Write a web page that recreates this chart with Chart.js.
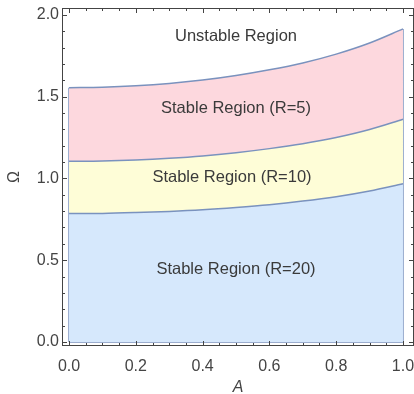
<!DOCTYPE html>
<html>
<head>
<meta charset="utf-8">
<script src="https://cdn.jsdelivr.net/npm/chart.js@4.4.1/dist/chart.umd.min.js"></script>
<style>
  html, body { margin: 0; padding: 0; background: #fff; }
  #wrap { width: 414px; height: 394px; position: relative; }
</style>
</head>
<body>
<div id="wrap"><canvas id="chart"></canvas></div>
<script>
// A values along the horizontal axis
const aValues = [0, 0.1, 0.2, 0.3, 0.4, 0.5, 0.6, 0.7, 0.8, 0.9, 1.0];

// upper boundaries of each stable region (Omega)
const omegaR5 = [1.555, 1.558, 1.566, 1.580, 1.601, 1.629, 1.664, 1.706, 1.760, 1.828, 1.914];
const omegaR10 = [1.105, 1.107, 1.113, 1.123, 1.137, 1.157, 1.182, 1.212, 1.250, 1.299, 1.362];
const omegaR20 = [0.785, 0.786, 0.791, 0.798, 0.808, 0.822, 0.839, 0.861, 0.888, 0.923, 0.967];

const xTicks = [0, 0.2, 0.4, 0.6, 0.8, 1.0];
const yTicks = [0, 0.5, 1.0, 1.5, 2.0];

const regionLabels = [
  { text: "Unstable Region", a: 0.5, w: 1.866 },
  { text: "Stable Region (R=5)", a: 0.5, w: 1.428 },
  { text: "Stable Region (R=10)", a: 0.488, w: 1.008 },
  { text: "Stable Region (R=20)", a: 0.5, w: 0.446 },
];

const FONT = "'Liberation Sans', Arial, sans-serif";
const edgeColor = "rgb(122,146,190)";
const toPoints = (ys) => ys.map((y, i) => ({ x: aValues[i], y: y }));
const last = aValues.length - 1;

const framePlugin = {
  id: "frame",
  afterDatasetsDraw(chart) {
    const { ctx, chartArea: ca, scales } = chart;
    const xs = scales.x, ys = scales.y;
    ctx.save();
    // region labels
    ctx.fillStyle = "#3a3a3a";
    ctx.font = "16.5px " + FONT;
    ctx.textAlign = "center";
    ctx.textBaseline = "middle";
    regionLabels.forEach((l) => {
      ctx.fillText(l.text, xs.getPixelForValue(l.a), ys.getPixelForValue(l.w));
    });
    // frame with inward ticks on all four sides
    ctx.strokeStyle = "#444";
    ctx.lineWidth = 1;
    ctx.strokeRect(Math.round(ca.left) + 0.5, Math.round(ca.top) + 0.5,
      Math.round(ca.right - ca.left) - 1, Math.round(ca.bottom - ca.top) - 1);
    ctx.beginPath();
    for (let v = 0; v <= 1.0001; v += 0.05) {
      const major = xTicks.some((t) => Math.abs(t - v) < 1e-6);
      const len = major ? 5 : 3;
      const px = Math.round(xs.getPixelForValue(v)) + 0.5;
      ctx.moveTo(px, ca.bottom); ctx.lineTo(px, ca.bottom - len);
      ctx.moveTo(px, ca.top); ctx.lineTo(px, ca.top + len);
    }
    for (let v = 0; v <= 2.0001; v += 0.1) {
      const major = yTicks.some((t) => Math.abs(t - v) < 1e-6);
      const len = major ? 5 : 3;
      const py = Math.round(ys.getPixelForValue(v)) + 0.5;
      ctx.moveTo(ca.left, py); ctx.lineTo(ca.left + len, py);
      ctx.moveTo(ca.right, py); ctx.lineTo(ca.right - len, py);
    }
    ctx.stroke();
    ctx.restore();
  },
};

const lineStyle = {
  borderColor: edgeColor,
  borderWidth: 1.5,
  pointRadius: 0,
  cubicInterpolationMode: "monotone",
};

new Chart(document.getElementById("chart").getContext("2d"), {
  type: "line",
  data: {
    datasets: [
      { ...lineStyle, label: "R=20", data: toPoints(omegaR20),
        fill: { value: 0 }, backgroundColor: "rgb(214,232,252)" },
      { ...lineStyle, label: "R=10", data: toPoints(omegaR10),
        fill: "-1", backgroundColor: "rgb(254,253,215)" },
      { ...lineStyle, label: "R=5", data: toPoints(omegaR5),
        fill: "-1", backgroundColor: "rgb(253,216,222)" },
      { ...lineStyle, label: "left", fill: false,
        data: [{ x: aValues[0], y: 0 }, { x: aValues[0], y: omegaR5[0] }] },
      { ...lineStyle, label: "right", fill: false,
        data: [{ x: aValues[last], y: 0 }, { x: aValues[last], y: omegaR5[last] }] },
      { ...lineStyle, label: "bottom", fill: false,
        data: [{ x: aValues[0], y: 0 }, { x: aValues[last], y: 0 }] },
    ],
  },
  plugins: [framePlugin],
  options: {
    responsive: true,
    maintainAspectRatio: false,
    animation: false,
    layout: { padding: { top: 8, right: 0, left: 0, bottom: 0 } },
    plugins: { legend: { display: false }, tooltip: { enabled: false } },
    scales: {
      x: {
        type: "linear",
        min: -0.021,
        max: 1.033,
        afterBuildTicks: (s) => { s.ticks = xTicks.map((v) => ({ value: v })); },
        afterFit: (s) => { s.height = 48; s.paddingLeft = 0; s.paddingRight = 0; },
        grid: { display: false, drawTicks: false },
        border: { display: false },
        ticks: {
          padding: 11,
          color: "#444",
          maxRotation: 0,
          font: { size: 16, family: FONT },
          callback: (v) => Number(v).toFixed(1),
        },
        title: {
          display: true,
          text: "A",
          color: "#444",
          padding: { top: 0, bottom: -3 },
          font: { size: 16, style: "italic", family: FONT },
        },
      },
      y: {
        type: "linear",
        min: -0.025,
        max: 2.042,
        afterBuildTicks: (s) => { s.ticks = yTicks.map((v) => ({ value: v })); },
        afterFit: (s) => { s.width = 62; s.paddingTop = 0; s.paddingBottom = 0; },
        grid: { display: false, drawTicks: false },
        border: { display: false },
        ticks: {
          padding: 3,
          color: "#444",
          font: { size: 16, family: FONT },
          callback: (v) => Number(v).toFixed(1),
        },
        title: {
          display: true,
          text: "Ω",
          color: "#444",
          padding: { top: 5, bottom: 0 },
          font: { size: 16, family: FONT },
        },
      },
    },
  },
});
</script>
</body>
</html>
